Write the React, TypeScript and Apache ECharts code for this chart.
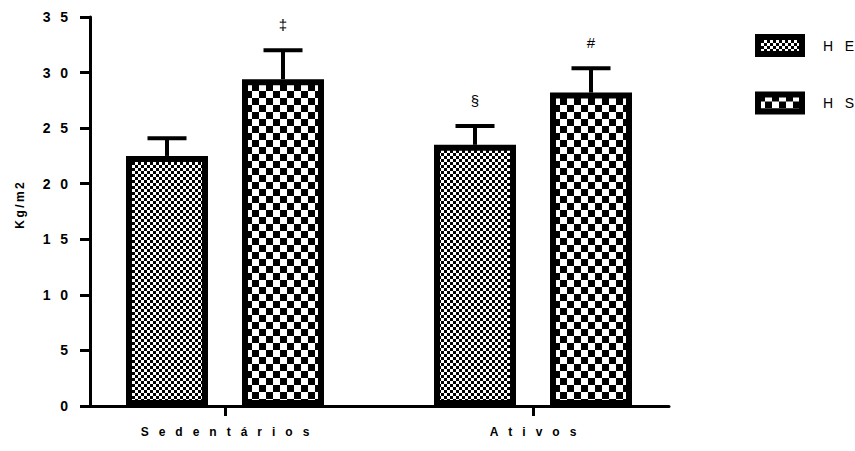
import React, { useEffect, useRef } from "react";
import * as echarts from "echarts";

// ---- data ----
const categories = ["Sedentários", "Ativos"];
const seriesNames = ["HE", "HS"];
const heMean = [22.5, 23.5];
const heSd = [1.6, 1.7];
const hsMean = [29.4, 28.2];
const hsSd = [2.6, 2.2];
const heMarks = ["", "§"];
const hsMarks = ["‡", "#"];
const yMin = 0;
const yMax = 35;
const yStep = 5;
const yTitle = "Kg/m2";

// ---- style ----
const FONT = "Arial, 'Liberation Sans', sans-serif";
const SP = "\u00A0\u00A0\u00A0";
const spaced = (s: string, sep: string = SP) => String(s).split("").join(sep);
const BAR_W = 82;
const BAR_GAP_PX = 34;
const OFF = (BAR_W + BAR_GAP_PX) / 2;
const CAP = 39;

function checker(cell: number) {
  const c = document.createElement("canvas");
  c.width = cell * 2;
  c.height = cell * 2;
  const ctx = c.getContext("2d")!;
  ctx.fillStyle = "#fff";
  ctx.fillRect(0, 0, cell * 2, cell * 2);
  ctx.fillStyle = "#000";
  ctx.fillRect(0, 0, cell, cell);
  ctx.fillRect(cell, cell, cell, cell);
  return c;
}

export default function App() {
  const ref = useRef<HTMLDivElement>(null);
  useEffect(() => {
    if (!ref.current) return;
    const chart = echarts.init(ref.current, undefined, { renderer: "svg" });
    const fine = { image: checker(3), repeat: "repeat" } as any;
    const coarse = { image: checker(7), repeat: "repeat" } as any;

    const errSeries = (name: string, means: number[], sds: number[], marks: string[], off: number) => ({
      type: "custom",
      name,
      xAxisIndex: 0,
      yAxisIndex: 0,
      z: 5,
      itemStyle: { color: "#000" },
      encode: { x: 0, y: 1 },
      data: means.map((m, i) => [i, m, sds[i]]),
      renderItem: (params: any, api: any) => {
        const i = api.value(0);
        const m = api.value(1);
        const e = api.value(2);
        const base = api.coord([i, m]);
        const top = api.coord([i, m + e]);
        const x = base[0] + off;
        const children: any[] = [
          { type: "line", shape: { x1: x, y1: base[1], x2: x, y2: top[1] }, style: { stroke: "#000", lineWidth: 4 } },
          { type: "line", shape: { x1: x - CAP / 2, y1: top[1], x2: x + CAP / 2, y2: top[1] }, style: { stroke: "#000", lineWidth: 4 } },
        ];
        const mark = marks[params.dataIndex];
        if (mark) {
          children.push({
            type: "text",
            x,
            y: top[1] - 18,
            style: { text: mark, fill: "#000", fontSize: 15, fontFamily: FONT, align: "center", verticalAlign: "bottom" },
          });
        }
        return { type: "group", children };
      },
    });

    chart.setOption({
      animation: false,
      backgroundColor: "#fff",
      grid: [
        { left: 71, width: 616, top: 17, height: 389 },
        { left: 90, width: 579, top: 17, height: 389 },
      ],
      legend: {
        data: seriesNames,
        orient: "vertical",
        left: 750,
        top: 29,
        itemWidth: 44,
        itemHeight: 17,
        itemGap: 34.5,
        icon: "rect",
        itemStyle: { borderColor: "#000", borderWidth: 6 },
        formatter: (n: string) => spaced(n),
        textStyle: { fontSize: 14, fontFamily: FONT, color: "#000", padding: [0, 0, 0, 16] },
      },
      xAxis: [
        {
          type: "category",
          gridIndex: 0,
          data: categories,
          axisLine: { show: false },
          axisTick: { show: true, alignWithLabel: true, length: 10, lineStyle: { color: "#000", width: 3 } },
          axisLabel: {
            formatter: (v: string) => spaced(v),
            fontSize: 12,
            fontWeight: "bold",
            fontFamily: FONT,
            color: "#000",
            margin: 20,
          },
          splitLine: { show: false },
        },
        {
          type: "value",
          gridIndex: 1,
          min: 0,
          max: 1,
          axisLine: { show: true, lineStyle: { color: "#000", width: 3 } },
          axisTick: { show: false },
          axisLabel: { show: false },
          splitLine: { show: false },
        },
      ],
      yAxis: [
        { type: "value", gridIndex: 0, min: yMin, max: yMax, show: false, splitLine: { show: false } },
        {
          type: "value",
          gridIndex: 1,
          min: yMin,
          max: yMax,
          interval: yStep,
          name: spaced(yTitle, "\u2009"),
          nameLocation: "middle",
          nameGap: 64,
          nameTextStyle: { fontSize: 12, fontWeight: "bold", fontFamily: FONT, color: "#000", padding: [0, 0, 0, 12] },
          axisLine: { show: true, lineStyle: { color: "#000", width: 3 } },
          axisTick: { show: true, length: 10, lineStyle: { color: "#000", width: 3 } },
          axisLabel: {
            formatter: (v: number) => spaced(String(v), "\u2002\u2009"),
            fontSize: 14,
            fontWeight: "bold",
            fontFamily: FONT,
            color: "#000",
            margin: 22,
          },
          splitLine: { show: false },
        },
      ],
      series: [
        {
          type: "bar",
          name: seriesNames[0],
          xAxisIndex: 0,
          yAxisIndex: 0,
          data: heMean,
          barWidth: BAR_W,
          barGap: `${(BAR_GAP_PX / BAR_W) * 100}%`,
          itemStyle: { color: fine, borderColor: "#000", borderWidth: 6 },
        },
        {
          type: "bar",
          name: seriesNames[1],
          xAxisIndex: 0,
          yAxisIndex: 0,
          data: hsMean,
          barWidth: BAR_W,
          barGap: `${(BAR_GAP_PX / BAR_W) * 100}%`,
          itemStyle: { color: coarse, borderColor: "#000", borderWidth: 6 },
        },
        errSeries("HE-err", heMean, heSd, heMarks, -OFF),
        errSeries("HS-err", hsMean, hsSd, hsMarks, OFF),
      ],
    });
    return () => chart.dispose();
  }, []);
  return <div ref={ref} style={{ position: "fixed", left: 0, top: 0, width: 855, height: 451 }} />;
}
